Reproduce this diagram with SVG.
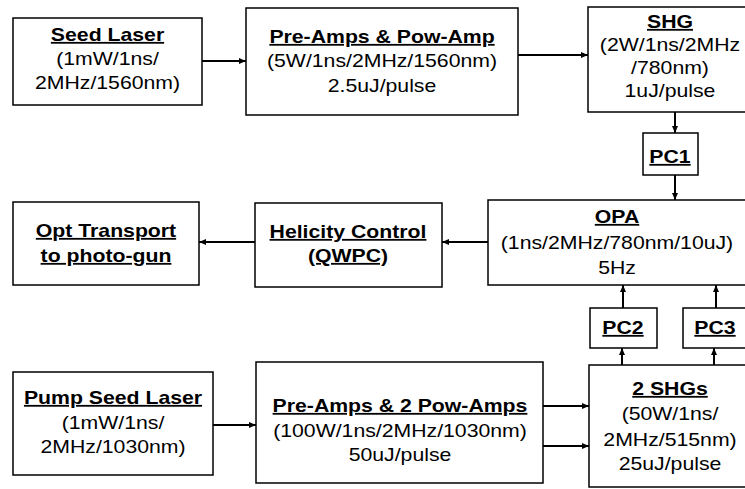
<svg xmlns="http://www.w3.org/2000/svg" width="745" height="489" viewBox="0 0 745 489">
<style>
.box{fill:#fff;stroke:#000;stroke-width:1.5}
text{font-family:"Liberation Sans",Arial,sans-serif;font-size:18px;fill:#000;text-anchor:middle}
.t{font-weight:bold;text-decoration:underline}
.c line{stroke:#000;stroke-width:2;marker-end:url(#ah)}
</style>
<defs>
<marker id="ah" markerUnits="userSpaceOnUse" markerWidth="7" markerHeight="6" refX="7" refY="3" orient="auto">
<path d="M0,0 L7,3 L0,6 z" fill="#000"/>
</marker>
</defs>
<rect width="745" height="489" fill="#fff"/>
<g class="c" id="connectors">
<line x1="202" y1="61" x2="246" y2="61"/>
<line x1="518" y1="55" x2="588" y2="55"/>
<line x1="675" y1="112" x2="675" y2="133"/>
<line x1="675" y1="175" x2="675" y2="200"/>
<line x1="488" y1="242" x2="442" y2="242"/>
<line x1="255" y1="242" x2="199" y2="242"/>
<line x1="623" y1="308" x2="623" y2="285"/>
<line x1="716" y1="308" x2="716" y2="285"/>
<line x1="622" y1="365" x2="622" y2="348"/>
<line x1="714" y1="365" x2="714" y2="348"/>
<line x1="213" y1="425" x2="256" y2="425"/>
<line x1="543" y1="406" x2="589" y2="406"/>
<line x1="543" y1="446" x2="589" y2="446"/>
</g>
<g id="seed">
<rect class="box" x="13" y="18" width="189" height="87"/>
<g transform="translate(107.5,0) scale(1.18,1)">
<text class="t" x="0" y="41">Seed Laser</text>
<text x="0" y="65">(1mW/1ns/</text>
<text x="0" y="89">2MHz/1560nm)</text>
</g>
</g>
<g id="preamp">
<rect class="box" x="246" y="8" width="272" height="107"/>
<g transform="translate(382,0) scale(1.18,1)">
<text class="t" x="0" y="43">Pre-Amps &amp; Pow-Amp</text>
<text x="0" y="67">(5W/1ns/2MHz/1560nm)</text>
<text x="0" y="92">2.5uJ/pulse</text>
</g>
</g>
<g id="shg">
<rect class="box" x="588" y="7" width="164" height="105"/>
<g transform="translate(670,0) scale(1.18,1)">
<text class="t" x="0" y="28">SHG</text>
<text x="0" y="51">(2W/1ns/2MHz</text>
<text x="0" y="74">/780nm)</text>
<text x="0" y="97">1uJ/pulse</text>
</g>
</g>
<g id="pc1">
<rect class="box" x="643" y="133" width="55" height="42"/>
<g transform="translate(670,0) scale(1.18,1)">
<text class="t" x="0" y="163">PC1</text>
</g>
</g>
<g id="opa">
<rect class="box" x="488" y="200" width="258" height="85"/>
<g transform="translate(617,0) scale(1.18,1)">
<text class="t" x="0" y="223">OPA</text>
<text x="0" y="249">(1ns/2MHz/780nm/10uJ)</text>
<text x="0" y="274">5Hz</text>
</g>
</g>
<g id="helicity">
<rect class="box" x="255" y="203" width="187" height="84"/>
<g transform="translate(348,0) scale(1.18,1)">
<text class="t" x="0" y="238">Helicity Control</text>
<text class="t" x="0" y="262">(QWPC)</text>
</g>
</g>
<g id="opt">
<rect class="box" x="13" y="202" width="186" height="83"/>
<g transform="translate(106,0) scale(1.18,1)">
<text class="t" x="0" y="237">Opt Transport</text>
<text class="t" x="0" y="262">to photo-gun</text>
</g>
</g>
<g id="pc2">
<rect class="box" x="590" y="308" width="67" height="40"/>
<g transform="translate(623,0) scale(1.18,1)">
<text class="t" x="0" y="334">PC2</text>
</g>
</g>
<g id="pc3">
<rect class="box" x="683" y="308" width="64" height="40"/>
<g transform="translate(715,0) scale(1.18,1)">
<text class="t" x="0" y="334">PC3</text>
</g>
</g>
<g id="pump">
<rect class="box" x="13" y="372" width="200" height="103"/>
<g transform="translate(113,0) scale(1.18,1)">
<text class="t" x="0" y="404">Pump Seed Laser</text>
<text x="0" y="429">(1mW/1ns/</text>
<text x="0" y="453">2MHz/1030nm)</text>
</g>
</g>
<g id="preamp2">
<rect class="box" x="256" y="362" width="287" height="121"/>
<g transform="translate(400,0) scale(1.18,1)">
<text class="t" x="0" y="412">Pre-Amps &amp; 2 Pow-Amps</text>
<text x="0" y="437">(100W/1ns/2MHz/1030nm)</text>
<text x="0" y="461">50uJ/pulse</text>
</g>
</g>
<g id="shgs">
<rect class="box" x="589" y="365" width="162" height="122"/>
<g transform="translate(670,0) scale(1.18,1)">
<text class="t" x="0" y="395">2 SHGs</text>
<text x="0" y="420">(50W/1ns/</text>
<text x="0" y="446">2MHz/515nm)</text>
<text x="0" y="470">25uJ/pulse</text>
</g>
</g>
</svg>
